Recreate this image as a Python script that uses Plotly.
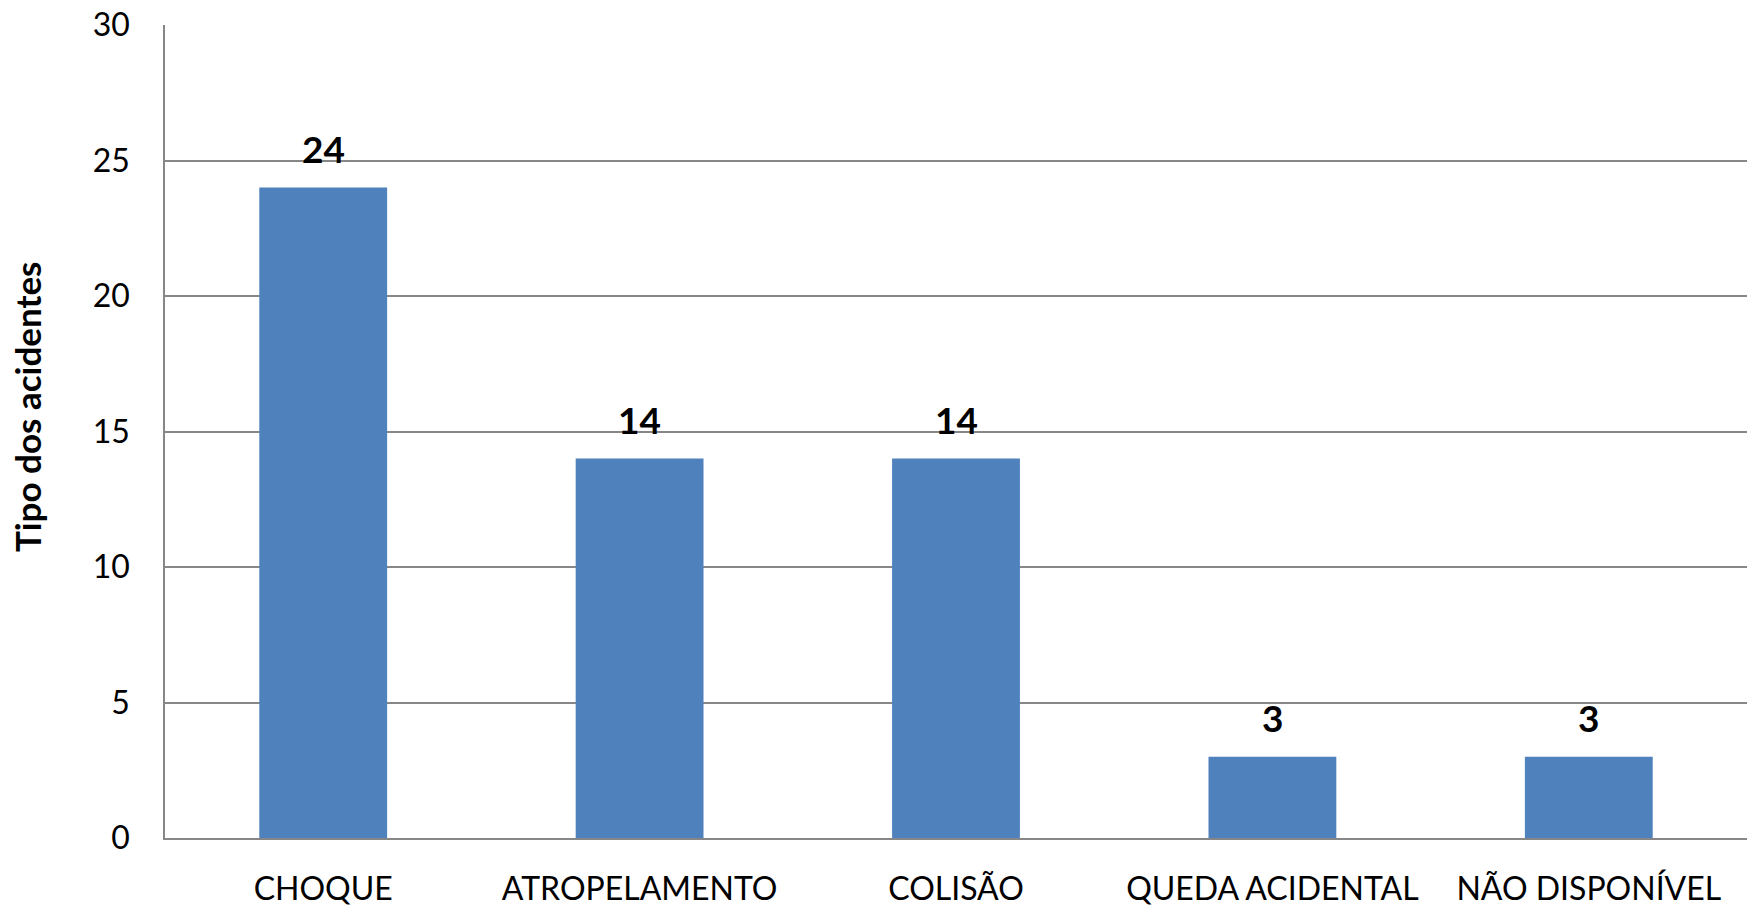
import plotly.graph_objects as go

categories = ["CHOQUE", "ATROPELAMENTO", "COLISÃO", "QUEDA ACIDENTAL", "NÃO DISPONÍVEL"]
values = [24, 14, 14, 3, 3]
y_title = "Tipo dos acidentes"
y_ticks = [0, 5, 10, 15, 20, 25, 30]

FONT = "Lato, Carlito, Calibri, sans-serif"
GRID = "#878787"

fig = go.Figure()
fig.add_trace(go.Bar(
    x=categories, y=values,
    marker=dict(color="#4F81BD", line=dict(width=0)),
    width=0.404,
    hoverinfo="skip",
))

for c, v in zip(categories, values):
    fig.add_annotation(x=c, y=v, text=str(v), showarrow=False,
                       yanchor="bottom", yshift=15,
                       font=dict(family=FONT, size=37, color="black", weight="bold"))

# y-axis title (placed slightly above the axis middle, as in the reference)
fig.add_annotation(text=y_title, xref="paper", yref="paper", x=0, y=0.53,
                   xanchor="right", yanchor="middle", xshift=-115,
                   textangle=-90, showarrow=False,
                   font=dict(family=FONT, size=35, color="black", weight="bold"))

fig.update_layout(
    width=1747, height=907,
    margin=dict(l=165, r=0, t=25, b=60),
    plot_bgcolor="white", paper_bgcolor="white",
    showlegend=False,
    font=dict(family=FONT, color="black"),
    bargap=0.6,
)
fig.update_xaxes(
    showline=True, linecolor=GRID, linewidth=2,
    ticks="", tickfont=dict(family=FONT, size=32, color="black"),
    ticklabelstandoff=22,
)
fig.update_yaxes(
    range=[0, 30], tickvals=y_ticks, ticktext=[str(t) for t in y_ticks],
    showline=True, linecolor=GRID, linewidth=1.5,
    showgrid=True, gridcolor=GRID, gridwidth=1.5,
    zeroline=False,
    ticks="", tickfont=dict(family=FONT, size=32, color="black"),
    ticklabelstandoff=27,
)

fig.write_html(
    "out.html",
    config={"displayModeBar": False},
    post_script="document.body.style.margin='0';document.body.style.overflow='hidden';",
)
